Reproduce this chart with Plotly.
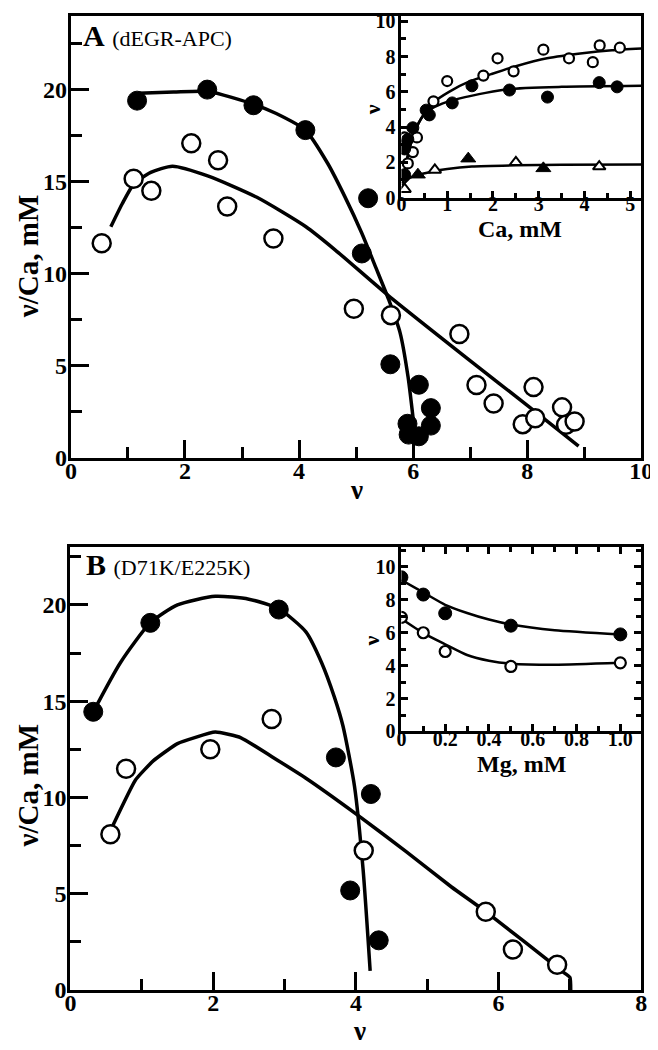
import plotly.graph_objects as go

# ---------------- data: panel A main (Scatchard) ----------------
A_fill_x = [1.16, 2.39, 3.20, 4.11, 5.21, 5.10, 5.60, 6.10, 6.31, 6.31, 5.90, 5.92, 6.10]
A_fill_y = [19.4, 20.0, 19.15, 17.8, 14.1, 11.1, 5.08, 3.97, 2.70, 1.75, 1.85, 1.26, 1.17]
A_open_x = [0.54, 1.10, 1.41, 2.11, 2.58, 2.74, 3.55, 4.96, 5.61, 6.81, 7.11, 7.41, 8.11, 7.92, 8.14, 8.61, 8.68, 8.83]
A_open_y = [11.66, 15.16, 14.5, 17.08, 16.16, 13.65, 11.91, 8.10, 7.75, 6.72, 3.96, 2.95, 3.84, 1.83, 2.15, 2.74, 1.80, 1.97]
A_fill_fit_x = [1.18, 1.80, 2.41, 3.21, 3.60, 4.11, 4.50, 4.80, 5.10, 5.35, 5.57, 5.77, 5.91, 6.03]
A_fill_fit_y = [19.8, 19.87, 19.9, 19.2, 18.7, 17.8, 16.0, 14.2, 12.2, 10.3, 8.6, 6.8, 4.4, 1.3]
A_open_fit_x = [0.70, 0.90, 1.10, 1.40, 1.78, 2.41, 3.26, 4.12, 4.63, 5.57, 7.03, 8.00, 8.90]
A_open_fit_y = [12.55, 13.8, 14.86, 15.5, 15.84, 15.3, 14.15, 12.55, 11.3, 8.8, 5.2, 2.85, 0.64]

# ---------------- data: panel A inset (nu vs Ca) ----------------
Ai_open_x = [0.07, 0.14, 0.25, 0.34, 0.70, 1.00, 1.79, 2.10, 2.45, 3.10, 3.66, 4.18, 4.33, 4.77]
Ai_open_y = [3.41, 1.94, 2.58, 3.41, 5.46, 6.61, 6.92, 7.90, 7.16, 8.39, 7.90, 7.68, 8.63, 8.50]
Ai_fill_x = [0.07, 0.07, 0.14, 0.25, 0.54, 0.61, 1.11, 1.54, 2.36, 3.19, 4.32, 4.71]
Ai_fill_y = [1.30, 2.76, 3.31, 3.96, 4.96, 4.69, 5.37, 6.34, 6.10, 5.70, 6.52, 6.28]
Ai_tri_fill_x = [0.36, 1.46, 3.10]
Ai_tri_fill_y = [1.30, 2.21, 1.66]
Ai_tri_open_x = [0.07, 0.73, 2.50, 4.32]
Ai_tri_open_y = [0.48, 1.57, 2.00, 1.76]
Ai_open_fit_x = [0.03, 0.10, 0.20, 0.30, 0.46, 0.70, 1.04, 1.50, 1.96, 2.50, 3.18, 4.00, 4.60, 5.24]
Ai_open_fit_y = [0.80, 1.90, 3.00, 3.80, 4.60, 5.40, 6.00, 6.60, 7.00, 7.45, 7.90, 8.20, 8.35, 8.45]
Ai_fill_fit_x = [0.03, 0.10, 0.20, 0.30, 0.46, 0.60, 0.89, 1.39, 2.32, 3.50, 5.24]
Ai_fill_fit_y = [0.80, 1.90, 3.00, 3.80, 4.60, 4.95, 5.33, 5.70, 6.15, 6.28, 6.34]
Ai_tri_fit_x = [0.02, 0.20, 0.46, 0.68, 1.00, 1.54, 2.50, 3.50, 5.24]
Ai_tri_fit_y = [0.70, 1.15, 1.35, 1.48, 1.62, 1.76, 1.83, 1.86, 1.88]

# ---------------- data: panel B main (Scatchard) ----------------
B_fill_x = [0.32, 1.12, 2.92, 3.72, 4.21, 3.92, 4.32]
B_fill_y = [14.45, 19.07, 19.76, 12.08, 10.18, 5.17, 2.58]
B_open_x = [0.56, 0.78, 1.96, 2.82, 4.11, 5.82, 6.20, 6.82]
B_open_y = [8.09, 11.49, 12.5, 14.08, 7.24, 4.07, 2.10, 1.31]
B_fill_fit_x = [0.32, 0.70, 1.12, 1.50, 2.03, 2.50, 2.92, 3.30, 3.52, 3.70, 3.82, 3.98, 4.10, 4.20]
B_fill_fit_y = [14.45, 17.0, 19.07, 20.0, 20.45, 20.3, 19.8, 18.6, 17.0, 15.2, 13.7, 10.6, 6.3, 1.0]
B_open_fit_x = [0.59, 0.91, 1.16, 1.50, 2.03, 2.39, 2.84, 3.30, 4.02, 4.70, 5.34, 5.82, 6.89, 7.00, 7.01]
B_open_fit_y = [8.51, 10.9, 11.9, 12.8, 13.4, 13.1, 12.08, 11.0, 9.1, 7.2, 5.35, 4.07, 0.97, 0.65, 0.0]

# ---------------- data: panel B inset (nu vs Mg) ----------------
Bi_x = [0.0, 0.1, 0.2, 0.5, 1.0]
Bi_fill_y = [9.37, 8.32, 7.18, 6.43, 5.90]
Bi_open_y = [6.93, 6.00, 4.86, 3.95, 4.17]
Bi_fill_fit_x = [0.0, 0.1, 0.2, 0.3, 0.4, 0.5, 0.7, 1.0]
Bi_fill_fit_y = [9.2, 8.45, 7.7, 7.2, 6.8, 6.5, 6.15, 5.9]
Bi_open_fit_x = [0.0, 0.1, 0.2, 0.3, 0.4, 0.5, 0.7, 1.0]
Bi_open_fit_y = [6.85, 5.98, 5.3, 4.65, 4.3, 4.12, 4.05, 4.17]
Bi_tickvals = [0, 0.2, 0.4, 0.6, 0.8, 1.0]
Bi_ticktext = ["0", "0.2", "0.4", "0.6", "0.8", "1.0"]

# ---------------- layout helpers ----------------
W, H = 658, 1050
FONT = "Liberation Serif, Times New Roman, serif"


def dx(a, b):
    return [a / W, b / W]


def dy(top, bottom):
    return [1 - bottom / H, 1 - top / H]


fig = go.Figure()


def line(x, y, ax, width, smooth=0.6):
    fig.add_trace(go.Scatter(x=x, y=y, mode="lines",
                             line=dict(color="black", width=width, shape="spline", smoothing=smooth),
                             xaxis="x" + ax, yaxis="y" + ax, showlegend=False, hoverinfo="skip"))


def pts(x, y, ax, filled, size, symbol="circle", lw=2.5):
    fig.add_trace(go.Scatter(x=x, y=y, mode="markers", xaxis="x" + ax, yaxis="y" + ax, showlegend=False,
                             marker=dict(symbol=symbol, size=size, color="black" if filled else "white",
                                         line=dict(color="black", width=1 if filled else lw))))


# panel A main
line(A_fill_fit_x, A_fill_fit_y, "", 3.5)
line(A_open_fit_x, A_open_fit_y, "", 3.5)
pts(A_fill_x, A_fill_y, "", True, 19)
pts(A_open_x, A_open_y, "", False, 18)
# panel A inset
line(Ai_open_fit_x, Ai_open_fit_y, "2", 2.5)
line(Ai_fill_fit_x, Ai_fill_fit_y, "2", 2.5)
line(Ai_tri_fit_x, Ai_tri_fit_y, "2", 2.5)
pts(Ai_open_x, Ai_open_y, "2", False, 10, lw=2.2)
pts(Ai_fill_x, Ai_fill_y, "2", True, 12)
pts(Ai_tri_fill_x, Ai_tri_fill_y, "2", True, 13, "triangle-up")
pts(Ai_tri_open_x, Ai_tri_open_y, "2", False, 11, "triangle-up", lw=2)
# panel B main
line(B_fill_fit_x, B_fill_fit_y, "3", 3.5)
line(B_open_fit_x, B_open_fit_y, "3", 3.5, 0.4)
pts(B_fill_x, B_fill_y, "3", True, 19)
pts(B_open_x, B_open_y, "3", False, 18)
# panel B inset
line(Bi_fill_fit_x, Bi_fill_fit_y, "4", 2.5)
line(Bi_open_fit_x, Bi_open_fit_y, "4", 2.5)
pts(Bi_x, Bi_fill_y, "4", True, 13)
pts(Bi_x, Bi_open_y, "4", False, 11, lw=2.2)

main_tick = dict(family=FONT, size=24, color="black", weight="bold")
inset_tick = dict(family=FONT, size=20, color="black", weight="bold")


def main_axis(rng, dtick, mdtick, domain, anchor, standoff):
    return dict(range=rng, domain=domain, anchor=anchor, dtick=dtick, tick0=0, ticks="inside", ticklen=18,
                tickwidth=3, tickcolor="black", showline=True, linecolor="black", linewidth=3, mirror=True,
                showgrid=False, zeroline=False, tickfont=main_tick, ticklabelstandoff=standoff,
                ticklabeloverflow="allow",
                minor=dict(dtick=mdtick, tick0=0, ticks="inside", ticklen=11, tickwidth=3, tickcolor="black",
                           showgrid=False))


def inset_axis(rng, domain, anchor, standoff, mirror, dtick=None, mdtick=None, tickvals=None, ticktext=None):
    d = dict(range=rng, domain=domain, anchor=anchor, ticks="inside", ticklen=7, tickwidth=2.5,
             tickcolor="black", showline=True, linecolor="black", linewidth=3, mirror=mirror,
             showgrid=False, zeroline=False, tickfont=inset_tick, ticklabelstandoff=standoff,
             ticklabeloverflow="allow",
             minor=dict(dtick=mdtick, tick0=0, ticks="inside", ticklen=5, tickwidth=2.5, tickcolor="black",
                        showgrid=False))
    if tickvals is not None:
        d.update(tickmode="array", tickvals=tickvals, ticktext=ticktext)
    else:
        d.update(dtick=dtick, tick0=0)
    return d


fig.update_layout(
    width=W, height=H, margin=dict(l=0, r=0, t=0, b=0),
    paper_bgcolor="white", plot_bgcolor="white", showlegend=False,
    xaxis=main_axis([0, 10], 2, 1, dx(58.5, 645), "y", -11),
    yaxis=main_axis([0, 24], 5, 2.5, dy(2, 452), "x", -4),
    xaxis2=inset_axis([0, 5.24], dx(398.3, 645), "y2", -14, True, dtick=1, mdtick=0.5),
    yaxis2=inset_axis([0, 10.3], dy(2, 187), "x2", -1, True, dtick=2, mdtick=1),
    xaxis3=main_axis([0, 8], 2, 1, dx(58, 645), "y3", -11),
    yaxis3=main_axis([0, 23], 5, 2.5, dy(543, 994), "x3", -4),
    xaxis4=inset_axis([0, 1.096], dx(398.3, 645), "y4", -12, "ticks", mdtick=0.1,
                      tickvals=Bi_tickvals, ticktext=Bi_ticktext),
    yaxis4=inset_axis([0, 11.2], dy(543, 730.7), "x4", -1, "ticks", dtick=2, mdtick=1),
)


def ann(text, x, y, size, angle=0, xanchor="center", yanchor="middle"):
    fig.add_annotation(text=text, x=x / W, y=1 - y / H, xref="paper", yref="paper", showarrow=False,
                       textangle=angle, xanchor=xanchor, yanchor=yanchor,
                       font=dict(family=FONT, size=size, color="black"))


# axis titles
ann("<b>ν/Ca, mM</b>", 14, 247, 29, -90)
ann("<b>ν</b>", 352, 485, 27)
ann("<b>Ca, mM</b>", 520, 219, 24)
ann("<b>ν</b>", 368, 97, 22, -90)
ann("<b>ν/Ca, mM</b>", 14, 786, 29, -90)
ann("<b>ν</b>", 355, 1036, 27)
ann("<b>Mg, mM</b>", 522, 764, 24)
ann("<b>ν</b>", 367, 638, 22, -90)
# panel labels
ann("<b>A</b> <span style='font-size:22px'>(dEGR-APC)</span>", 69, 22, 30, xanchor="left")
ann("<b>B</b> <span style='font-size:22px'>(D71K/E225K)</span>", 72, 561, 30, xanchor="left")

fig.write_html("out.html")
